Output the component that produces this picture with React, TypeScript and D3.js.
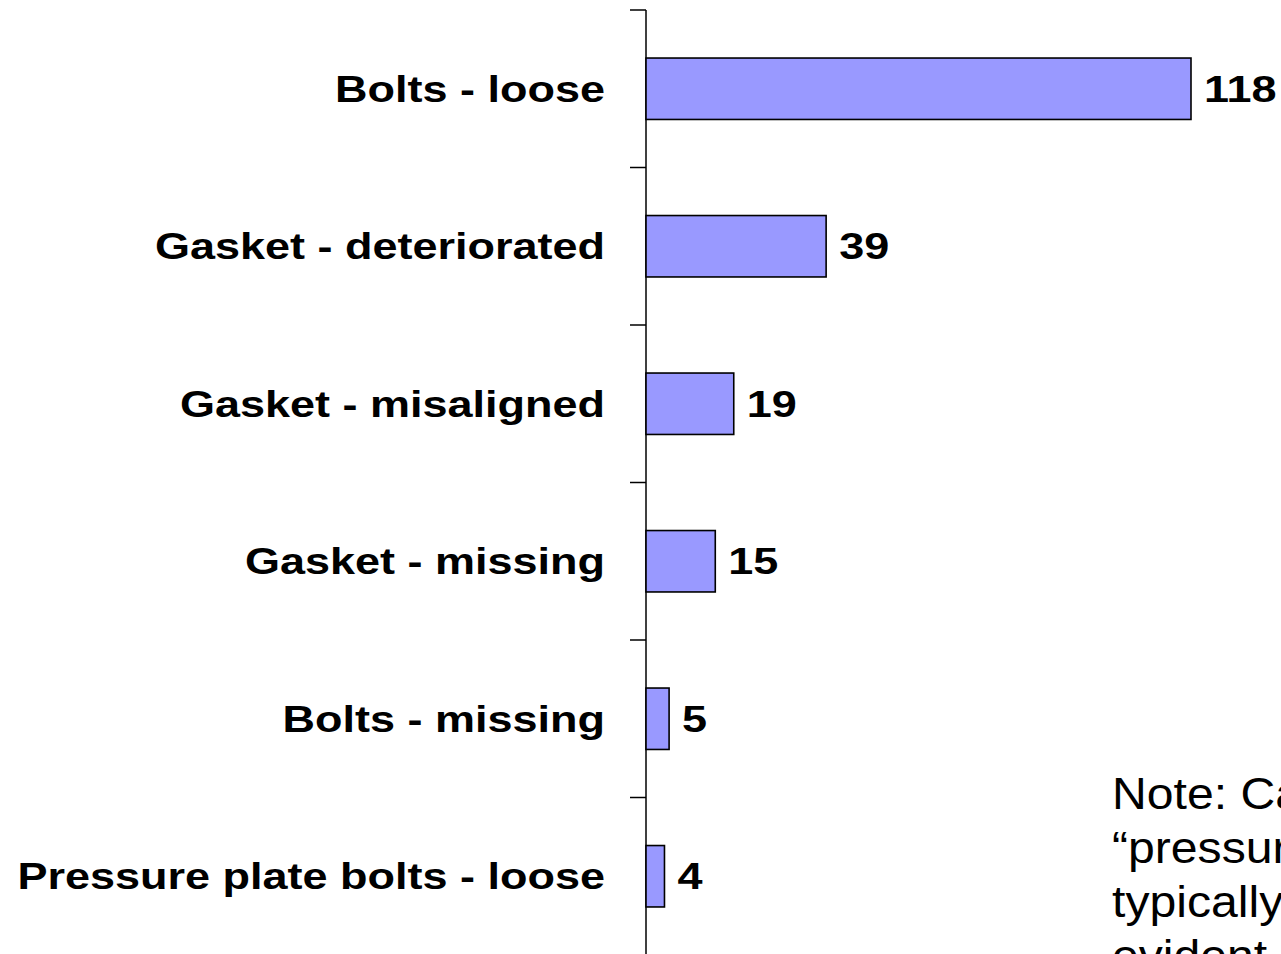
import React, { useEffect, useRef } from 'react';
import * as d3 from 'd3';

const categories = [
  'Bolts - loose',
  'Gasket - deteriorated',
  'Gasket - misaligned',
  'Gasket - missing',
  'Bolts - missing',
  'Pressure plate bolts - loose',
];
const counts = [118, 39, 19, 15, 5, 4];
const noteLines = ['Note: Category', '\u201cpressure plate', 'typically', 'evident'];

const App = () => {
  const ref = useRef<SVGSVGElement>(null);

  useEffect(() => {
    const svg = d3.select(ref.current);
    svg.selectAll('*').remove();

    const height = 954;
    const axisX = 646;
    const top = 10;
    const step = 157.5;
    const stretch = 1.25;

    const xScale = d3.scaleLinear()
      .domain([0, 118])
      .range([axisX, 1191]);

    const yScale = d3.scaleBand()
      .domain(categories)
      .range([top, top + step * categories.length])
      .paddingInner(0.61)
      .paddingOuter(0.305);

    const data = categories.map((c, i) => ({ name: c, value: counts[i] }));

    // axis line + ticks between bands
    svg.append('line')
      .attr('x1', axisX).attr('x2', axisX)
      .attr('y1', top).attr('y2', height + 5)
      .attr('stroke', '#000').attr('stroke-width', 1.5);

    d3.range(categories.length + 1).forEach(i => {
      const y = top + i * yScale.step();
      svg.append('line')
        .attr('x1', axisX - 16).attr('x2', axisX)
        .attr('y1', y).attr('y2', y)
        .attr('stroke', '#000').attr('stroke-width', 1.5);
    });

    svg.selectAll('.bar')
      .data(data)
      .enter().append('rect')
      .attr('class', 'bar')
      .attr('x', xScale(0))
      .attr('y', d => yScale(d.name)!)
      .attr('width', d => xScale(d.value) - xScale(0))
      .attr('height', yScale.bandwidth())
      .style('fill', '#9999ff')
      .style('stroke', '#000')
      .style('stroke-width', 1.6);

    // category labels (wide bold face)
    svg.selectAll('.cat')
      .data(data)
      .enter().append('text')
      .attr('class', 'cat')
      .attr('transform', d => `translate(605, ${yScale(d.name)! + yScale.bandwidth() / 2 + 13}) scale(${stretch}, 1)`)
      .attr('text-anchor', 'end')
      .style('font-family', 'Liberation Sans, Arial, sans-serif')
      .style('font-weight', 'bold')
      .style('font-size', '36px')
      .style('fill', '#000')
      .text(d => d.name);

    // value labels
    svg.selectAll('.val')
      .data(data)
      .enter().append('text')
      .attr('class', 'val')
      .attr('transform', d => `translate(${xScale(d.value) + 13}, ${yScale(d.name)! + yScale.bandwidth() / 2 + 13}) scale(${stretch}, 1)`)
      .style('font-family', 'Liberation Sans, Arial, sans-serif')
      .style('font-weight', 'bold')
      .style('font-size', '36px')
      .style('fill', '#000')
      .text(d => d.value);

    // note, cut off at the right edge as in the slide
    svg.selectAll('.note')
      .data(noteLines)
      .enter().append('text')
      .attr('class', 'note')
      .attr('transform', (d, i) => `translate(1112, ${809 + i * 54}) scale(1.07, 1)`)
      .style('font-family', 'Liberation Sans, Arial, sans-serif')
      .style('font-size', '45px')
      .style('fill', '#000')
      .text(d => d);
  }, []);

  return (
    <svg
      ref={ref}
      width={1281}
      height={954}
      style={{ position: 'absolute', left: 0, top: 0, background: '#fff', overflow: 'hidden' }}
    ></svg>
  );
};

export default App;
